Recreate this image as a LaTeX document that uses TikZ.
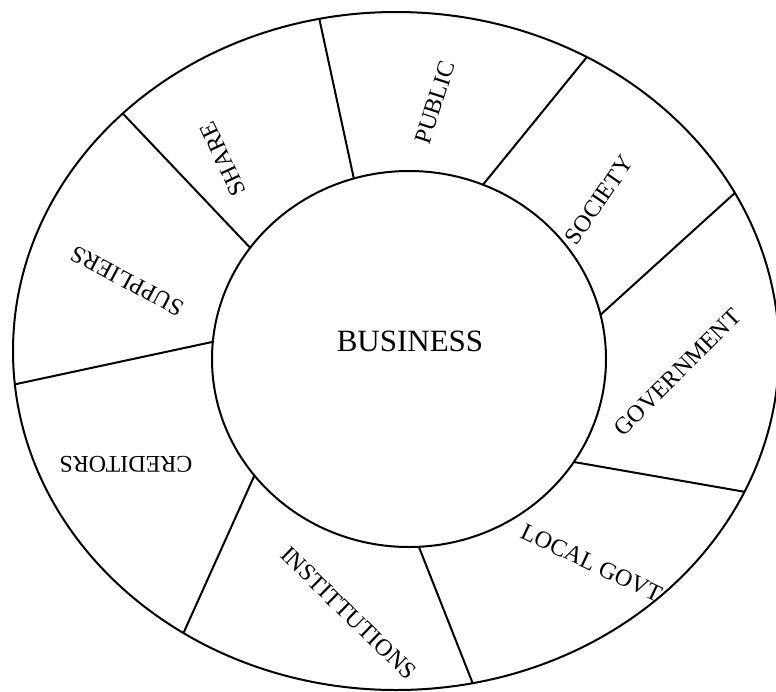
\documentclass[tikz,border=0pt]{standalone}
\usepackage{fontspec}
\setmainfont{Liberation Serif}
\usetikzlibrary{shapes.geometric}
\begin{document}
\begin{tikzpicture}[x=1pt,y=-1pt,
  ring/.style={draw, ellipse, inner sep=0pt, outer sep=0pt, line width=2pt},
  divider/.style={line width=2pt},
  lbl/.style={font=\fontsize{24}{28}\selectfont, inner sep=0pt},
  core/.style={font=\fontsize{31}{36}\selectfont, inner sep=0pt}]
\useasboundingbox (0,0) rectangle (776,691);
\node[ring, minimum width=766pt, minimum height=678pt] (outer) at (396,351) {};
\node[ring, minimum width=394pt, minimum height=376pt] (inner) at (409,359) {};
\draw[divider] (inner.145.6) -- (outer.139);
\draw[divider] (inner.107.4) -- (outer.103.7);
\draw[divider] (inner.67.2) -- (outer.57.2);
\draw[divider] (inner.13.4) -- (outer.25.95);
\draw[divider] (inner.-32.5) -- (outer.-22.2);
\draw[divider] (inner.-87.3) -- (outer.-77.5);
\draw[divider] (inner.217.2) -- (outer.233.1);
\draw[divider] (inner.175.6) -- (outer.185.4);
\node[core] (business) at (410,341) {BUSINESS};
\node[lbl, rotate=180] (creditors) at (126,464) {CREDITORS};
\node[lbl, rotate=152] (suppliers) at (127,281) {SUPPLIERS};
\node[lbl, rotate=115] (share) at (223,159) {SHARE};
\node[lbl, rotate=72] (public) at (435,102.5) {PUBLIC};
\node[lbl, rotate=55.5] (society) at (599,200) {SOCIETY};
\node[lbl, rotate=45] (government) at (677.5,372.5) {GOVERNMENT};
\node[lbl, rotate=-25.3] (localgovt) at (591.5,563) {LOCAL GOVT};
\node[lbl, rotate=-44.3] (institutions) at (348.5,613) {INSTITTUTIONS};
\end{tikzpicture}
\end{document}
